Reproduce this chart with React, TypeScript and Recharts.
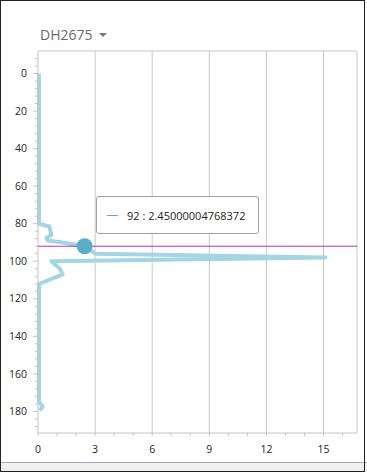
import { LineChart, Line, XAxis, YAxis, CartesianGrid, Tooltip } from "recharts";

// depth (m) down the hole and the reading at that depth
const depths = [0, 80, 81.5, 86, 87.5, 89, 90, 92, 96, 98, 100, 104, 107, 112, 113, 175, 177.5, 179.5];
const readings = [0.05, 0.05, 0.6, 0.7, 0.45, 0.5, 1.3, 2.45000004768372, 3.0, 15.1, 0.7, 1.15, 1.3, 0.08, 0.05, 0.05, 0.25, 0.08];

const depthTicks = Array.from({ length: 50 }, (_, i) => -8 + i * 4);
const valueTicks = Array.from({ length: 17 }, (_, i) => i);
const gridValues = [3, 6, 9, 12, 15, 16.76];

const activeDepth = 92;

const data = depths.map((depth, i) => ({ depth, value: readings[i] }));
const activeIndex = depths.indexOf(activeDepth);

const LINE = "#a4d5e2";
const DOT = "#5aaec8";
const AXIS = "#c4c4c4";
const FONT = "'Open Sans', 'Noto Sans', sans-serif";

function DepthTick(props: any) {
  const { x, y, payload } = props;
  const v = payload.value;
  const major = v >= 0 && v % 20 === 0;
  return (
    <g>
      <line x1={x - (major ? 5 : 3)} x2={x} y1={y} y2={y} stroke={AXIS} />
      {major && (
        <text x={x - 11} y={y} dy="0.35em" textAnchor="end" fontSize={10.5} fontFamily={FONT} fill="#262626">
          {v}
        </text>
      )}
    </g>
  );
}

function ValueTick(props: any) {
  const { x, y, payload } = props;
  const v = payload.value;
  const major = v % 3 === 0;
  return (
    <g>
      <line x1={x} x2={x} y1={y} y2={y + 3} stroke={AXIS} />
      {major && (
        <text x={x} y={y + 16} dy="0.35em" textAnchor="middle" fontSize={10.5} fontFamily={FONT} fill="#262626">
          {v}
        </text>
      )}
    </g>
  );
}

function ReadingTooltip({ active, payload }: any) {
  if (!active || !payload || !payload.length) return null;
  const row = payload[0].payload;
  return (
    <div
      style={{
        width: 163,
        height: 38,
        boxSizing: "border-box",
        border: "1px solid #a0a0a0",
        borderRadius: 3,
        background: "#fff",
        display: "flex",
        alignItems: "center",
        paddingLeft: 10,
        fontFamily: FONT,
        fontSize: 11,
        color: "#222",
      }}
    >
      <span style={{ display: "inline-block", width: 11, height: 1, background: DOT, marginRight: 9 }} />
      <span>{`${row.depth} : ${row.value}`}</span>
    </div>
  );
}

export default function App() {
  return (
    <div style={{ position: "relative", width: 367, height: 472, background: "#fff", overflow: "hidden" }}>
      <style>{"body{margin:0}"}</style>
      <div
        style={{
          position: "absolute",
          left: 40,
          top: 25,
          fontFamily: FONT,
          fontSize: 14,
          lineHeight: "19px",
          color: "#6a6a6a",
        }}
      >
        DH2675
      </div>
      <div
        style={{
          position: "absolute",
          left: 99,
          top: 33,
          width: 0,
          height: 0,
          borderLeft: "4px solid transparent",
          borderRight: "4px solid transparent",
          borderTop: "4px solid #777",
        }}
      />
      <div style={{ position: "absolute", left: 0, top: 0 }}>
        <LineChart
          width={366}
          height={462}
          data={data}
          layout="vertical"
          margin={{ top: 51, right: 9, left: 0, bottom: 0 }}
        >
          <CartesianGrid
            stroke="#c8c8c8"
            verticalValues={gridValues}
            horizontalValues={[-12]}
          />
          <XAxis
            type="number"
            dataKey="value"
            domain={[0, 16.76]}
            ticks={valueTicks}
            interval={0}
            height={29}
            tickSize={0}
            tickMargin={0}
            tickLine={false}
            axisLine={{ stroke: AXIS }}
            tick={(p: any) => <ValueTick {...p} />}
          />
          <YAxis
            type="number"
            dataKey="depth"
            domain={[-12, 191.5]}
            ticks={depthTicks}
            interval={0}
            width={38}
            tickSize={0}
            tickMargin={0}
            tickLine={false}
            axisLine={{ stroke: AXIS }}
            tick={(p: any) => <DepthTick {...p} />}
          />
          <Tooltip
            defaultIndex={activeIndex}
            position={{ x: 96, y: 196 }}
            content={<ReadingTooltip />}
            cursor={{ stroke: "#b234b2", strokeWidth: 1 }}
            isAnimationActive={false}
          />
          <Line
            type="linear"
            dataKey="value"
            stroke={LINE}
            strokeWidth={4}
            strokeLinejoin="round"
            dot={false}
            activeDot={{ r: 8, fill: DOT, stroke: "none" }}
            isAnimationActive={false}
          />
        </LineChart>
      </div>
      <div
        style={{
          position: "absolute",
          left: 0,
          top: 462,
          width: 367,
          height: 10,
          boxSizing: "border-box",
          background: "#f0f0f0",
          borderTop: "1px solid #a8a8a8",
        }}
      />
      <div
        style={{
          position: "absolute",
          left: 0,
          top: 0,
          width: 365,
          height: 472,
          boxSizing: "border-box",
          border: "1px solid #222",
          pointerEvents: "none",
        }}
      />
    </div>
  );
}
